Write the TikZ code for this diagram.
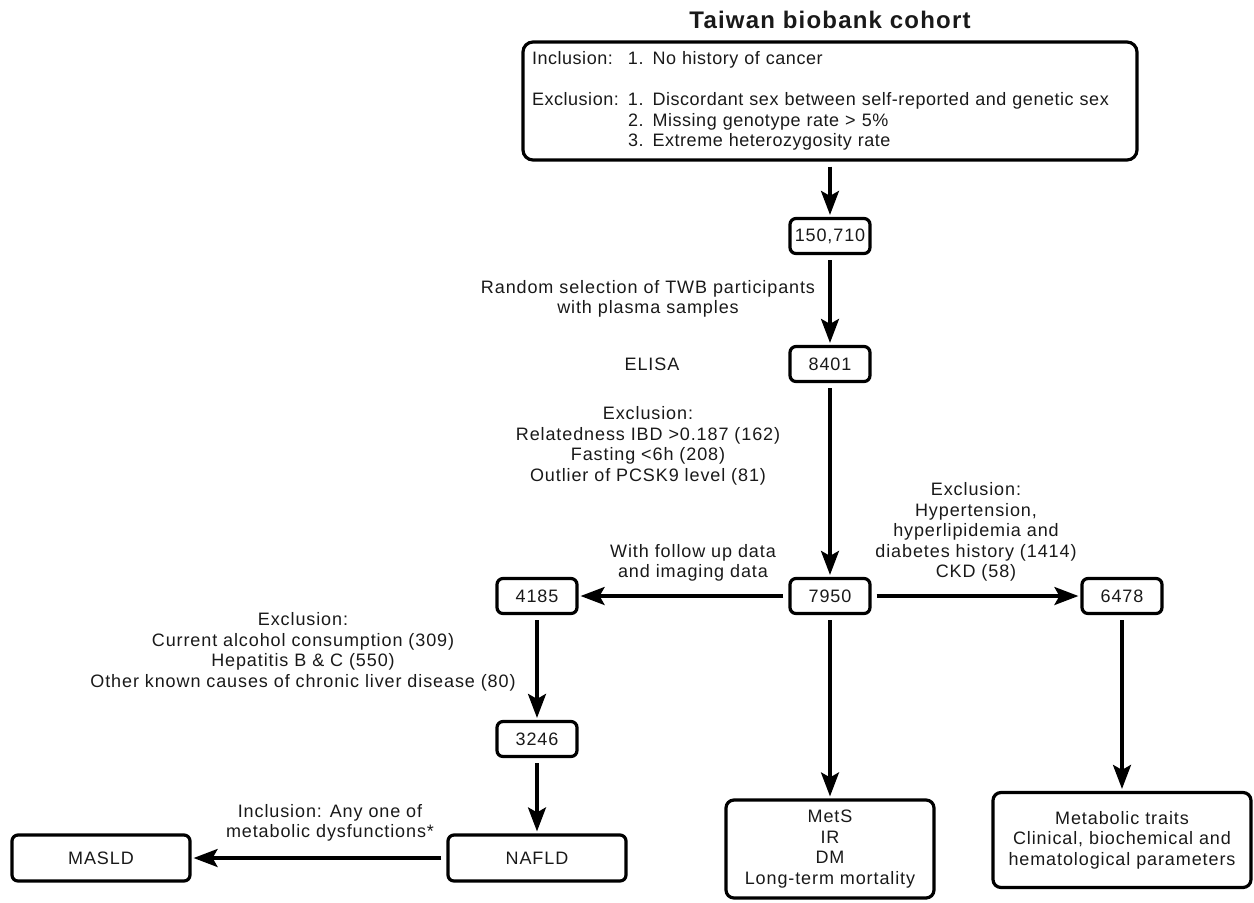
\documentclass[tikz,border=0pt]{standalone}
\usepackage{fontspec}
\setmainfont[LetterSpace=5]{Liberation Sans}
\usetikzlibrary{arrows.meta}

\begin{document}
\begin{tikzpicture}[x=0.5pt,y=-0.5pt,>={Stealth[length=12pt,width=9pt,inset=2.5pt]},
  shorten >=1pt,shorten <=2.5pt,line width=1.6pt,
  base/.style={font=\fontsize{9}{10.25}\selectfont,text=black!90},
  num node/.style={base,draw,rounded corners=3pt,minimum width=40pt,minimum height=17.5pt,inner sep=0pt},
  out node/.style={base,draw,rounded corners=3pt,align=center,inner sep=0pt},
  note/.style={base,align=center,inner sep=0pt}]
  \useasboundingbox (0,0) rectangle (1254,902);

  \node[text=black!90,font=\fontsize{12}{14}\selectfont\bfseries] (title) at (830,20) {Taiwan biobank cohort};
  \node[base,draw,rounded corners=5pt,text width=298pt,align=left,inner xsep=4.5pt,minimum height=59pt] (cohort) at (830,101)
    {\addfontfeatures{LetterSpace=3}%
     \makebox[48pt][l]{Inclusion:}1. No history of cancer\\[10.25pt]
     \makebox[48pt][l]{Exclusion:}1. Discordant sex between self-reported and genetic sex\\
     \hspace*{48pt}2. Missing genotype rate > 5\%\\
     \hspace*{48pt}3. Extreme heterozygosity rate};

  \node[num node] (n150) at (830,236) {150,710};
  \node[num node] (n8401) at (830,364) {8401};
  \node[num node] (n7950) at (830,596) {7950};
  \node[num node] (n4185) at (537,596) {4185};
  \node[num node] (n6478) at (1122,596) {6478};
  \node[num node] (n3246) at (537,739) {3246};

  \node[out node,minimum width=89pt,minimum height=23pt] (masld) at (101,858) {MASLD};
  \node[out node,minimum width=89pt,minimum height=23pt] (nafld) at (537,858) {NAFLD};
  \node[out node,minimum width=104pt,minimum height=49pt,rounded corners=4pt] (mets) at (830,849) {MetS\\IR\\DM\\Long-term mortality};
  \node[out node,minimum width=129pt,minimum height=47.5pt,rounded corners=4pt] (traits) at (1122,840) {Metabolic traits\\Clinical, biochemical and\\hematological parameters};

  \node[note] (rand) at (648,299) {Random selection of TWB participants\\with plasma samples};
  \node[note] (elisa) at (652,364) {ELISA};
  \node[note] (excl1) at (648,446) {Exclusion:\\Relatedness IBD >0.187 (162)\\Fasting <6h (208)\\Outlier of PCSK9 level (81)};
  \node[note] (follow) at (693,563) {With follow up data\\and imaging data};
  \node[note] (excl2) at (976,532) {Exclusion:\\Hypertension,\\hyperlipidemia and\\diabetes history (1414)\\CKD (58)};
  \node[note] (excl3) at (303,652) {Exclusion:\\Current alcohol consumption (309)\\Hepatitis B \& C (550)\\Other known causes of chronic liver disease (80)};
  \node[note] (incl) at (330,823) {Inclusion: Any one of\\metabolic dysfunctions*};

  \path[->]
    (cohort) edge (n150)
    (n150) edge (n8401)
    (n8401) edge (n7950)
    (n7950) edge (n4185)
    (n7950) edge (n6478)
    (n7950) edge (mets)
    (n6478) edge (traits)
    (n4185) edge (n3246)
    (n3246) edge (nafld)
    (nafld) edge (masld);
\end{tikzpicture}
\end{document}
